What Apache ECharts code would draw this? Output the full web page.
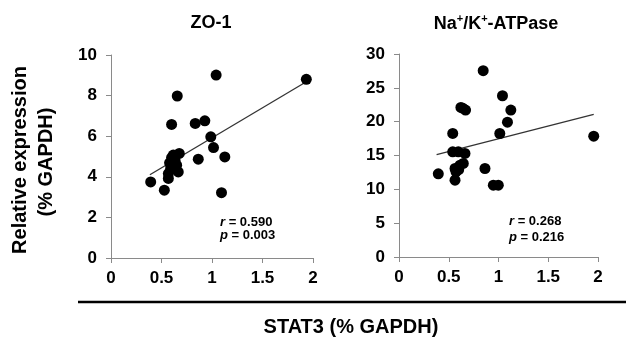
<!DOCTYPE html>
<html>
<head>
<meta charset="utf-8">
<script src="https://cdn.jsdelivr.net/npm/echarts@6/dist/echarts.min.js"></script>
<style>
html,body{margin:0;padding:0;background:#fff;}
#c{width:626px;height:337px;}
</style>
</head>
<body>
<div id="c"></div>
<script>
// ---- data ----
const panelTitles = ['ZO-1', 'Na+/K+-ATPase'];
const xTickLabels = ['0', '0.5', '1', '1.5', '2'];
const zoYTicks = ['0', '2', '4', '6', '8', '10'];
const naYTicks = ['0', '5', '10', '15', '20', '25', '30'];

const zoX = [0.393, 0.528, 0.568, 0.568, 0.580, 0.600, 0.617, 0.634, 0.650, 0.656, 0.666, 0.676, 0.600, 0.590,
             0.834, 0.864, 0.929, 0.988, 1.015, 1.041, 1.094, 1.127, 1.934];
const zoY = [3.75, 3.34, 3.92, 4.16, 4.69, 6.58, 5.07, 4.82, 4.57, 7.98, 4.24, 5.15, 4.95, 4.40,
             6.63, 4.87, 6.76, 5.97, 5.44, 9.01, 3.22, 4.98, 8.80];
const naX = [0.395, 0.540, 0.540, 0.596, 0.663, 0.563, 0.613, 0.646, 0.563, 0.573, 0.600, 0.622, 0.669, 0.640,
             0.846, 0.864, 0.948, 0.998, 1.013, 1.040, 1.090, 1.124, 1.957];
const naY = [12.30, 18.26, 15.54, 15.54, 15.30, 13.08, 13.57, 13.82, 11.35, 12.60, 12.90, 22.10, 21.71, 22.00,
             27.53, 13.08, 10.61, 10.61, 18.25, 23.83, 19.93, 21.71, 17.86];

const zoFitX = [0.385, 1.934];
const zoFitY = [4.10, 8.68];
const naFitX = [0.378, 1.957];
const naFitY = [15.14, 21.08];

const zoStats = ['0.590', '0.003'];
const naStats = ['0.268', '0.216'];

// ---- chart ----
const FONT = '"Liberation Sans", Arial, sans-serif';
const pairs = (xs, ys) => xs.map((x, i) => [x, ys[i]]);

const axisCommonX = (gi) => ({
  type: 'value', gridIndex: gi, min: 0, max: 2, interval: 0.5,
  axisLine: { show: true, lineStyle: { color: '#8a8a8a', width: 1 } },
  axisTick: { show: true, length: 5, lineStyle: { color: '#8a8a8a' } },
  splitLine: { show: false },
  axisLabel: {
    margin: 12, color: '#000', fontFamily: FONT, fontWeight: 'bold', fontSize: 17,
    formatter: (v) => xTickLabels[Math.round(v / 0.5)]
  }
});
const axisCommonY = (gi, max, step, labels) => ({
  type: 'value', gridIndex: gi, min: 0, max: max, interval: step,
  axisLine: { show: true, lineStyle: { color: '#8a8a8a', width: 1 } },
  axisTick: { show: true, length: 5, lineStyle: { color: '#8a8a8a' } },
  splitLine: { show: false },
  axisLabel: {
    margin: 14, color: '#000', fontFamily: FONT, fontWeight: 'bold', fontSize: 17,
    formatter: (v) => labels[Math.round(v / step)]
  }
});

const chart = echarts.init(document.getElementById('c'), null, { renderer: 'canvas' });
chart.setOption({
  animation: false,
  backgroundColor: '#fff',
  grid: [
    { left: 111, top: 55, width: 202, height: 203 },
    { left: 399, top: 54, width: 199, height: 203 }
  ],
  xAxis: [axisCommonX(0), axisCommonX(1)],
  yAxis: [axisCommonY(0, 10, 2, zoYTicks), axisCommonY(1, 30, 5, naYTicks)],
  series: [
    { type: 'line', xAxisIndex: 0, yAxisIndex: 0, data: pairs(zoFitX, zoFitY), showSymbol: false,
      lineStyle: { color: '#333', width: 1.3 }, z: 1 },
    { type: 'scatter', xAxisIndex: 0, yAxisIndex: 0, data: pairs(zoX, zoY), symbolSize: 11,
      itemStyle: { color: '#000', opacity: 1 }, z: 2 },
    { type: 'line', xAxisIndex: 1, yAxisIndex: 1, data: pairs(naFitX, naFitY), showSymbol: false,
      lineStyle: { color: '#333', width: 1.3 }, z: 1 },
    { type: 'scatter', xAxisIndex: 1, yAxisIndex: 1, data: pairs(naX, naY), symbolSize: 11,
      itemStyle: { color: '#000', opacity: 1 }, z: 2 }
  ],
  graphic: [
    { type: 'text', x: 211, y: 23, style: { text: panelTitles[0], font: 'bold 18px ' + FONT, fill: '#000',
      align: 'center', verticalAlign: 'middle' } },
    { type: 'text', x: 496, y: 23, style: {
      text: '{b|Na}{s|+}{b|/K}{s|+}{b|-ATPase}',
      align: 'center', verticalAlign: 'middle',
      rich: {
        b: { fontFamily: FONT, fontWeight: 'bold', fontSize: 18, fill: '#000', color: '#000', lineHeight: 20, verticalAlign: 'bottom' },
        s: { fontFamily: FONT, fontWeight: 'bold', fontSize: 11, fill: '#000', color: '#000', lineHeight: 20, verticalAlign: 'top' }
      } } },
    { type: 'text', x: 20, y: 160, rotation: Math.PI / 2, style: { text: 'Relative expression',
      font: 'bold 20px ' + FONT, fill: '#000', align: 'center', verticalAlign: 'middle' } },
    { type: 'text', x: 46, y: 162, rotation: Math.PI / 2, style: { text: '(% GAPDH)',
      font: 'bold 20px ' + FONT, fill: '#000', align: 'center', verticalAlign: 'middle' } },
    { type: 'text', x: 220, y: 229, style: {
      text: '{i|r}{n| = ' + zoStats[0] + '}\n{i|p}{n| = ' + zoStats[1] + '}',
      align: 'left', verticalAlign: 'middle',
      rich: {
        i: { fontFamily: FONT, fontStyle: 'italic', fontWeight: 'bold', fontSize: 13, fill: '#000', color: '#000', lineHeight: 13 },
        n: { fontFamily: FONT, fontWeight: 'bold', fontSize: 13, fill: '#000', color: '#000', lineHeight: 13 }
      } } },
    { type: 'text', x: 509, y: 229, style: {
      text: '{i|r}{n| = ' + naStats[0] + '}\n{i|p}{n| = ' + naStats[1] + '}',
      align: 'left', verticalAlign: 'middle',
      rich: {
        i: { fontFamily: FONT, fontStyle: 'italic', fontWeight: 'bold', fontSize: 13, fill: '#000', color: '#000', lineHeight: 16 },
        n: { fontFamily: FONT, fontWeight: 'bold', fontSize: 13, fill: '#000', color: '#000', lineHeight: 16 }
      } } },
    { type: 'line', shape: { x1: 78, y1: 302, x2: 626, y2: 302 }, style: { stroke: '#000', lineWidth: 2.5 } },
    { type: 'text', x: 351, y: 327, style: { text: 'STAT3 (% GAPDH)', font: 'bold 20px ' + FONT, fill: '#000',
      align: 'center', verticalAlign: 'middle' } }
  ]
});
</script>
</body>
</html>
